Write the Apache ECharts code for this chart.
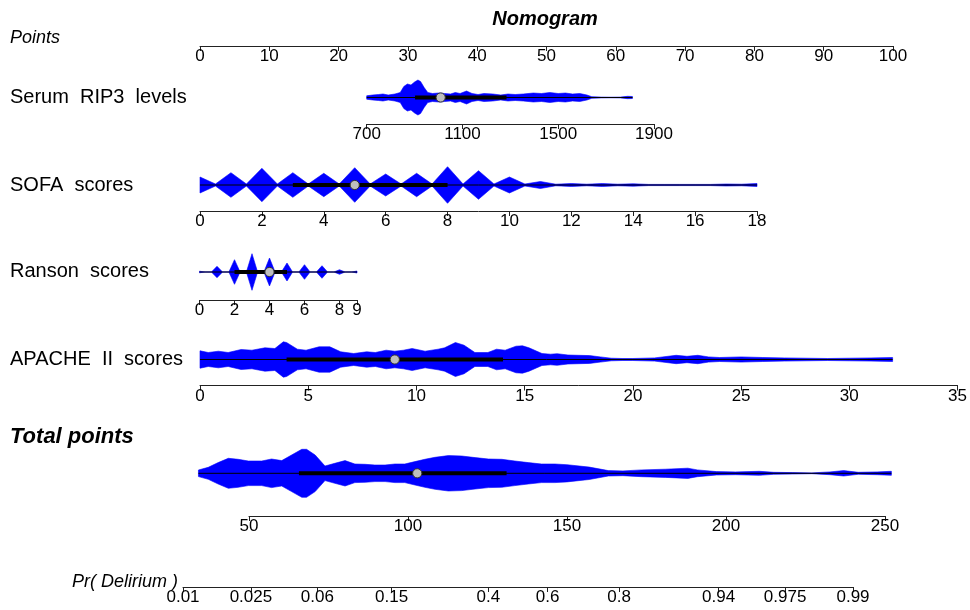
<!DOCTYPE html>
<html><head><meta charset="utf-8">
<script src="https://cdn.jsdelivr.net/npm/echarts@6/dist/echarts.min.js"></script>
<style>html,body{margin:0;padding:0;background:#fff}#c{width:970px;height:610px}</style>
</head><body><div id="c"></div><script>
// ---------- data ----------
const pointsTicks = [0,10,20,30,40,50,60,70,80,90,100];
const rip3Ticks = [700,1100,1500,1900];
const sofaTicks = [0,2,4,6,8,10,12,14,16,18];
const ransonTicks = [0,2,4,6,8,9];
const apacheTicks = [0,5,10,15,20,25,30,35];
const totalTicks = [50,100,150,200,250];
const prTicks = [0.01,0.025,0.06,0.15,0.4,0.6,0.8,0.94,0.975,0.99];

// violin half-widths (density)
const rip3X = [700,725,750,768,790,818,840,855,870,885,900,914,925,940,955,975,1000,1025,1050,1070,1090,1117,1140,1165,1190,1227,1260,1290,1320,1354,1396,1430,1465,1500,1530,1560,1590,1620,1640,1680,1720,1760,1790,1810];
const rip3D = [1.7,2.5,3.0,3.5,2.5,3.5,5,11,13.5,12.5,15.5,17.5,16,10,5,4,4.5,4,3.5,5,4,6.5,4,3,4,3.5,2.5,3.5,3,3.5,4.5,4,5,4,4.5,3.5,4,2.5,0.8,0.4,0.3,0.4,1.2,1.0];
const rip3Box = [902,1009,1284];
const rip3Range = [700,1810];

const sofaX = [0,0.5,1,1.5,2,2.5,3,3.5,4,4.5,5,5.5,6,6.5,7,7.5,8,8.5,9,9.5,10,10.5,11,11.5,12,12.5,13,13.5,14,14.5,15,15.5,16,16.5,17,17.5,18];
const sofaD = [8,1,12.3,1,16.7,1,12.3,1,11.7,1,17.3,1,11,1,11.7,1,18.3,1,14.3,1,8,1,3.5,0.8,1.5,0.8,1.5,0.8,1.2,0.6,0.6,0.6,0.6,0.6,1,0.8,1.5];
const sofaBox = [3,5,8];
const sofaRange = [0,18];

const ransonX = [0,0.32,0.68,1,1.32,1.68,2,2.32,2.68,3,3.32,3.68,4,4.32,4.68,5,5.32,5.68,6,6.32,6.68,7,7.32,7.68,8,8.32,8.7,9];
const ransonD = [0.8,0,0,5.7,0,0,12.3,0,0,18.3,0,0,14,0,0,9,0,0,7.3,0,0,6.3,0,0,2.3,0,0,1];
const ransonBox = [2,4,5];
const ransonRange = [0,9];

const apacheX = [0,0.38,0.85,1.3,1.9,2.4,3.0,3.46,3.85,4.0,4.5,4.9,5.5,6.0,6.5,7.1,7.7,8.1,8.6,9.0,9.4,9.8,10.4,11.0,11.3,11.8,12.2,12.7,13.3,13.7,14.1,14.6,14.9,15.2,15.8,16.2,16.5,17,18,18.5,19,19.5,20,21,22,22.5,23,23.5,24,25,26,27,28,29,30,31,32];
const apacheD = [8.7,7,8.3,7,10,9.3,11.7,11,17.7,17,10.3,9.3,12.7,12.7,7.7,6,7.7,7,9.3,8.3,9.3,11,8.3,10.3,11.7,17,14.3,7,7,10.3,9.3,13.3,13.7,11.7,6,5.3,5.8,4.5,3.9,2.6,1.3,1,1,1.6,4.2,3.2,4.2,2.6,2,2.6,2,1.6,1.3,1,1.3,1.6,2];
const apacheBox = [4,9,14];
const apacheRange = [0,32];

const totalX = [34.1,37.2,40.3,43.5,46.6,49.8,54,57.1,60.3,63.4,66.6,68.1,70.8,73.9,77,80.2,83.3,86.5,89.6,92.8,95.9,99,102.2,105.3,108.5,112.7,116.9,121.1,125.3,129.5,133.6,137.8,142,146.2,150,157,163,167.6,173.5,181,188,191,197,203,210.5,215,221,227,232.7,237,241.6,247.5,252];
const totalD = [3.3,6,10.7,15,14,12.3,12.3,14.3,12.7,18.3,24,24,18.3,7.3,10,12.7,9.3,9,8.3,8.3,9.3,9.3,11.7,14,16,17.7,17.3,15.7,14.3,14,12.3,10.7,9.3,9.3,8.6,6.2,2.7,2.4,3.4,4.1,5.1,3.4,1.7,1.4,2,1,0.7,0.4,1.4,2.7,1,1.4,2];
const totalBox = [65.7,102.9,131];
const totalRange = [34.1,252];

// ---------- layout ----------
const FONT = "'Liberation Sans',Arial,sans-serif";
const logit = p => Math.log(p/(1-p));

const rows = [
  {l:200, r:893, c:16, a:46, min:0, max:100, ticks:pointsTicks},
  {l:366.7, r:654, c:97.5, a:124, min:700, max:1900, ticks:rip3Ticks, x:rip3X, d:rip3D, box:rip3Box, range:rip3Range},
  {l:200, r:757, c:185, a:211, min:0, max:18, ticks:sofaTicks, x:sofaX, d:sofaD, box:sofaBox, range:sofaRange},
  {l:199.5, r:357, c:272, a:300, min:0, max:9, ticks:ransonTicks, x:ransonX, d:ransonD, box:ransonBox, range:ransonRange},
  {l:200, r:958, c:359.5, a:385.5, min:0, max:35, ticks:apacheTicks, x:apacheX, d:apacheD, box:apacheBox, range:apacheRange},
  {l:249, r:885, c:473.3, a:516, min:50, max:250, ticks:totalTicks, x:totalX, d:totalD, box:totalBox, range:totalRange},
  {l:183, r:853, c:557, a:587, min:logit(0.01), max:logit(0.99), ticks:prTicks.map(logit), pr:true}
];

const grid = [], xAxis = [], yAxis = [], series = [];
rows.forEach((R, i) => {
  grid.push({left:R.l, width:R.r-R.l, top:R.c-30, height:R.a-(R.c-30)});
  xAxis.push({
    gridIndex:i, type:'value', min:R.min, max:R.max, position:'bottom',
    axisLine:{show:true, onZero:false, lineStyle:{color:'#222', width:1}},
    axisTick:{show:true, length:5, customValues:R.ticks, lineStyle:{color:'#222', width:1}},
    axisLabel:{show:true, customValues:R.ticks, margin:2, fontSize:17, color:'#000', fontFamily:FONT,
      formatter: R.pr ? (v => { let best = prTicks[0]; prTicks.forEach(p => { if (Math.abs(logit(p)-v) < Math.abs(logit(best)-v)) best = p; }); return String(best); }) : (v => String(v))},
    splitLine:{show:false}
  });
  yAxis.push({gridIndex:i, type:'value', min:-(R.a-R.c), max:30, show:false});
  if (R.x) {
    series.push({
      type:'custom', xAxisIndex:i, yAxisIndex:i, clip:false, silent:true,
      data:[[R.range[0],0]],
      renderItem:(params, api) => {
        const up = R.x.map((x,j) => api.coord([x, R.d[j]]));
        const lo = R.x.map((x,j) => api.coord([x, -R.d[j]])).reverse();
        const l0 = api.coord([R.range[0],0]), l1 = api.coord([R.range[1],0]);
        const q1 = api.coord([R.box[0],0]), md = api.coord([R.box[1],0]), q3 = api.coord([R.box[2],0]);
        return {type:'group', children:[
          {type:'polygon', shape:{points:up.concat(lo)}, style:{fill:'#0000ff', stroke:'#0000ff', lineWidth:0.6}},
          {type:'line', shape:{x1:l0[0], y1:l0[1], x2:l1[0], y2:l1[1]}, style:{stroke:'#000', lineWidth:1}},
          {type:'line', shape:{x1:q1[0], y1:q1[1], x2:q3[0], y2:q3[1]}, style:{stroke:'#000', lineWidth:4}},
          {type:'circle', shape:{cx:md[0], cy:md[1], r:4.6}, style:{fill:'#bebebe', stroke:'#333', lineWidth:1}}
        ]};
      }
    });
  }
});

const txt = (x, y, s, font, extra) => Object.assign({type:'text', x, y, silent:true,
  style:Object.assign({text:s, fill:'#000', font:font, textVerticalAlign:'middle', textAlign:'left'}, extra||{})});

const graphic = [
  txt(545, 19, 'Nomogram', "italic bold 20px " + FONT, {textAlign:'center'}),
  txt(10, 38, 'Points', "italic 18px " + FONT),
  txt(10, 97, 'Serum  RIP3  levels', "20px " + FONT),
  txt(10, 185, 'SOFA  scores', "20px " + FONT),
  txt(10, 271, 'Ranson  scores', "20px " + FONT),
  txt(10, 359, 'APACHE  II  scores', "20px " + FONT),
  txt(10, 437, 'Total points', "italic bold 22px " + FONT),
  txt(178, 582, 'Pr( Delirium )', "italic 18px " + FONT, {textAlign:'right'})
];

const chart = echarts.init(document.getElementById('c'), null, {renderer:'canvas'});
chart.setOption({
  backgroundColor:'#fff', animation:false,
  grid, xAxis, yAxis, series, graphic
});
</script></body></html>
